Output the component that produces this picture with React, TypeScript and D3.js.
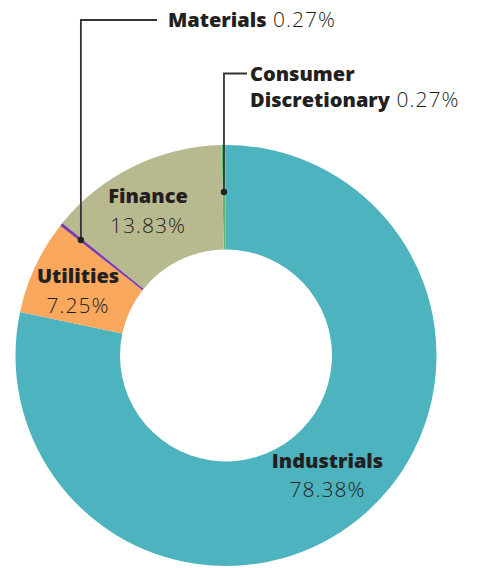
import React from "react";
import * as d3 from "d3";

const categories = ["Consumer Discretionary", "Industrials", "Utilities", "Materials", "Finance"];
const shares = [0.27, 78.38, 7.25, 0.27, 13.83];
const colors = ["#5cb86e", "#4db3bf", "#f9a85e", "#7d40a8", "#b8b98f"];

const W = 478;
const H = 568;
const cx = 226;
const cy = 355.5;
const outerR = 210.5;
const innerR = 106;
const rot = (-1.2 * Math.PI) / 180;

const FONT = "'Open Sans', sans-serif";
const TXT = "#231f20";

export default function App() {
  const data = categories.map((c, i) => ({ name: c, value: shares[i], color: colors[i] }));
  const pie = d3.pie<any>().value((d: any) => d.value).sort(null).startAngle(rot).endAngle(2 * Math.PI + rot);
  const arcs = pie(data);
  const arc = d3.arc<any>().innerRadius(innerR).outerRadius(outerR);
  const fmt = (v: number) => v.toFixed(2) + "%";

  const polar = (a: number, r: number) => [cx + r * Math.sin(a), cy - r * Math.cos(a)];

  const cd = arcs[0];
  const mat = arcs[3];
  const cdDot = polar((cd.startAngle + cd.endAngle) / 2, 163.5);
  const matDot = polar((mat.startAngle + mat.endAngle) / 2, 185.5);

  const pct = { fontWeight: 300, fontSize: 21, letterSpacing: 1 } as any;
  const bold = { fontWeight: 800, letterSpacing: 0 } as any;

  return (
    <svg width={W} height={H} style={{ position: "absolute", left: 0, top: 0, background: "#fff" }}>
      <g transform={`translate(${cx},${cy})`}>
        {arcs.map((a, i) => (
          <path key={i} d={arc(a) as string} fill={a.data.color} />
        ))}
      </g>
      {/* Materials leader */}
      <polyline
        points={`${matDot[0]},${matDot[1]} ${matDot[0]},20 157,20`}
        fill="none"
        stroke="#333"
        strokeWidth={1.8}
      />
      <circle cx={matDot[0]} cy={matDot[1]} r={3.2} fill="#222" />
      {/* Consumer Discretionary leader */}
      <polyline
        points={`${cdDot[0]},${cdDot[1]} ${cdDot[0]},73.5 247,73.5`}
        fill="none"
        stroke="#333"
        strokeWidth={1.8}
      />
      <circle cx={cdDot[0]} cy={cdDot[1]} r={3.2} fill="#222" />

      <g fontFamily={FONT} fontSize={20} fill={TXT}>
        <text x={168} y={27}>
          <tspan {...bold}>{data[3].name}</tspan>
          <tspan {...pct}> {fmt(data[3].value)}</tspan>
        </text>
        <text x={250} y={81} {...bold}>Consumer</text>
        <text x={250} y={107}>
          <tspan {...bold}>Discretionary</tspan>
          <tspan {...pct}> {fmt(data[0].value)}</tspan>
        </text>
        <text x={148} y={203} textAnchor="middle" {...bold}>{data[4].name}</text>
        <text x={148} y={233} textAnchor="middle" {...pct}>{fmt(data[4].value)}</text>
        <text x={78} y={283} textAnchor="middle" {...bold}>{data[2].name}</text>
        <text x={78} y={313} textAnchor="middle" {...pct}>{fmt(data[2].value)}</text>
        <text x={327.5} y={468} textAnchor="middle" {...bold}>{data[1].name}</text>
        <text x={327.5} y={497} textAnchor="middle" {...pct}>{fmt(data[1].value)}</text>
      </g>
    </svg>
  );
}
